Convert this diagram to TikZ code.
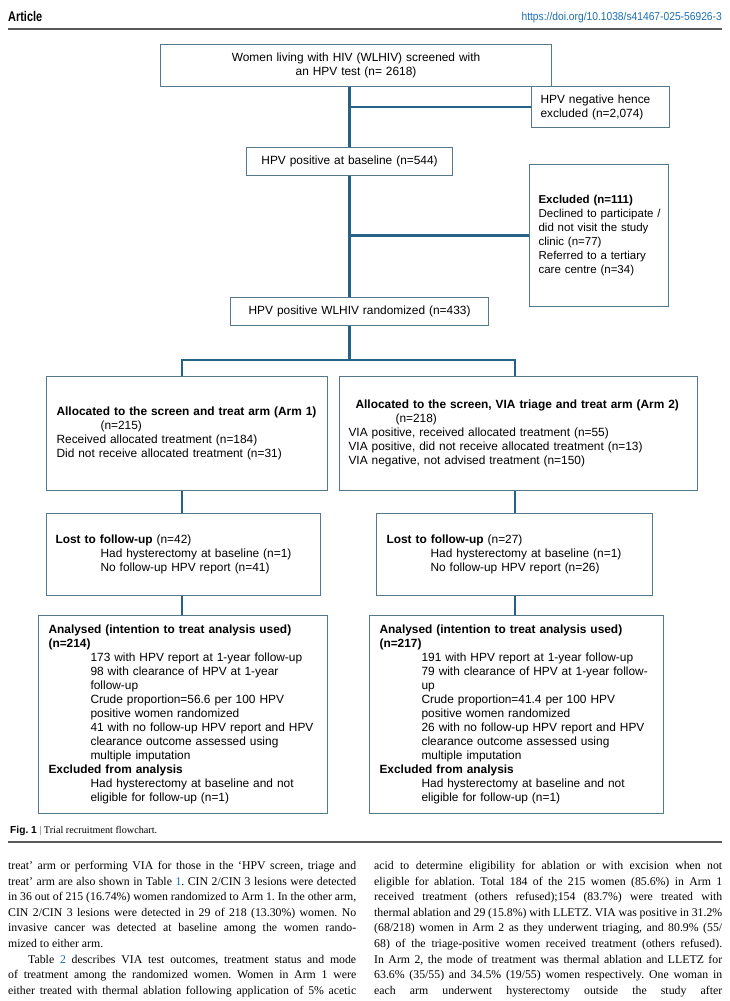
\documentclass[tikz,border=0pt]{standalone}
\usepackage{fontspec}
\setmainfont{Liberation Serif}
\newfontfamily\boxfont{Liberation Sans}
\definecolor{connc}{RGB}{38,98,132}
\definecolor{bord}{RGB}{84,120,142}
\definecolor{linkblue}{RGB}{28,110,178}
\definecolor{rulegray}{RGB}{90,90,90}
\frenchspacing
\tikzset{
  box/.style={draw=bord, line width=1.1pt, anchor=north west, inner xsep=10pt, inner ysep=0pt,
    font=\boxfont\fontsize{11.9}{14}\selectfont},
  lbox/.style={box, align=left, execute at begin node={\rightskip=-40pt plus 1fil\relax}},
  cbox/.style={box, align=center},
  conn/.style={draw=connc, line width=2.4pt},
  rulel/.style={draw=rulegray, line width=1.3pt},
  bodytext/.style={anchor=north west, inner sep=0pt, text width=348pt, align=justify,
    font=\fontsize{11.8}{15.6}\selectfont}
}
\begin{document}
\begin{tikzpicture}[x=1pt,y=-1pt]
\useasboundingbox (0,0) rectangle (729,1001);
\fill[white] (0,0) rectangle (729,1001);

% header
\node[anchor=base west, inner sep=0pt, font=\boxfont\bfseries\fontsize{14}{16}\selectfont] (hdr) at (8,21) {\scalebox{0.78}[1]{Article}};
\node[anchor=base east, inner sep=0pt, font=\boxfont\fontsize{11.4}{13}\selectfont, text=linkblue] (url) at (722,20) {\scalebox{0.9}[1]{https://doi.org/10.1038/s41467-025-56926-3}};
\coordinate (hl1) at (8,29);
\coordinate (hl2) at (722,29);
\draw[rulel] (hl1) -- (hl2);

% boxes
\node[cbox, text width=371pt, minimum height=42pt] (b1) at (160,44)
  {Women living with HIV (WLHIV) screened with\\an HPV test (n= 2618)};
\node[lbox, inner xsep=9pt, text width=120pt, minimum height=41pt] (b2) at (531,86)
  {HPV negative hence\\excluded (n=2,074)};
\node[cbox, text width=186pt, minimum height=28pt] (b3) at (246,147)
  {HPV positive at baseline (n=544)};
\node[lbox, inner xsep=9pt, text width=121pt, minimum height=142pt, font=\boxfont\fontsize{11.5}{14}\selectfont] (b4) at (529,164)
  {\textbf{Excluded (n=111)}\\Declined to participate /\\did not visit the study\\clinic (n=77)\\Referred to a tertiary\\care centre (n=34)};
\node[cbox, text width=238pt, minimum height=28pt] (b5) at (230,297)
  {HPV positive WLHIV randomized (n=433)};
\node[lbox, text width=261pt, minimum height=114pt] (b6) at (46,376)
  {\textbf{Allocated to the screen and treat arm (Arm 1)}\\\hspace*{44pt}(n=215)\\Received allocated treatment (n=184)\\Did not receive allocated treatment (n=31)};
\node[lbox, inner xsep=9pt, text width=340pt, minimum height=114pt] (b7) at (339,376)
  {\hspace*{7pt}\textbf{Allocated to the screen, VIA triage and treat arm (Arm 2)}\\\hspace*{47pt}(n=218)\\VIA positive, received allocated treatment (n=55)\\VIA positive, did not receive allocated treatment (n=13)\\VIA negative, not advised treatment (n=150)};
\node[lbox, inner xsep=9pt, text width=256pt, minimum height=82pt] (b8) at (46,513)
  {\textbf{Lost to follow-up} (n=42)\\\hspace*{45pt}Had hysterectomy at baseline (n=1)\\\hspace*{45pt}No follow-up HPV report (n=41)};
\node[lbox, text width=256pt, minimum height=82pt] (b9) at (376,513)
  {\textbf{Lost to follow-up} (n=27)\\\hspace*{44pt}Had hysterectomy at baseline (n=1)\\\hspace*{44pt}No follow-up HPV report (n=26)};
\node[lbox, text width=269pt, minimum height=198pt] (b10) at (38,615)
  {\textbf{Analysed (intention to treat analysis used)}\\\textbf{(n=214)}\\
   \hspace*{42pt}173 with HPV report at 1-year follow-up\\
   \hspace*{42pt}98 with clearance of HPV at 1-year\\
   \hspace*{42pt}follow-up\\
   \hspace*{42pt}Crude proportion=56.6 per 100 HPV\\
   \hspace*{42pt}positive women randomized\\
   \hspace*{42pt}41 with no follow-up HPV report and HPV\\
   \hspace*{42pt}clearance outcome assessed using\\
   \hspace*{42pt}multiple imputation\\
   \textbf{Excluded from analysis}\\
   \hspace*{42pt}Had hysterectomy at baseline and not\\
   \hspace*{42pt}eligible for follow-up (n=1)};
\node[lbox, text width=274pt, minimum height=198pt] (b11) at (369,615)
  {\textbf{Analysed (intention to treat analysis used)}\\\textbf{(n=217)}\\
   \hspace*{42pt}191 with HPV report at 1-year follow-up\\
   \hspace*{42pt}79 with clearance of HPV at 1-year follow-\\
   \hspace*{42pt}up\\
   \hspace*{42pt}Crude proportion=41.4 per 100 HPV\\
   \hspace*{42pt}positive women randomized\\
   \hspace*{42pt}26 with no follow-up HPV report and HPV\\
   \hspace*{42pt}clearance outcome assessed using\\
   \hspace*{42pt}multiple imputation\\
   \textbf{Excluded from analysis}\\
   \hspace*{42pt}Had hysterectomy at baseline and not\\
   \hspace*{42pt}eligible for follow-up (n=1)};

% connectors
\draw[conn] (b3.north) -- (b3.north |- b1.south);
\draw[conn] (b3.north |- b2.west) -- (b2.west);
\draw[conn] (b3.south) -- (b3.south |- b5.north);
\draw[conn] (b3.south |- b4.west) -- (b4.west);
\coordinate (jL) at (182,360);
\coordinate (jR) at (515,360);
\coordinate (jM) at (b3.south |- jL);
\draw[conn] (b3.south |- b5.south) -- (jM);
\draw[conn, line join=miter] (jL |- b6.north) -- (jL) -- (jR) -- (jR |- b7.north);
\draw[conn] (jL |- b6.south) -- (jL |- b8.north);
\draw[conn] (jR |- b7.south) -- (jR |- b9.north);
\draw[conn] (jL |- b8.south) -- (jL |- b10.north);
\draw[conn] (jR |- b9.south) -- (jR |- b11.north);

% caption
\node[anchor=base west, inner sep=0pt, font=\fontsize{10.2}{12}\selectfont] (cap) at (10,833)
  {{\boxfont\bfseries Fig. 1} {\color{rulegray}|} Trial recruitment flowchart.};
\coordinate (cl1) at (8,842);
\coordinate (cl2) at (722,842);
\draw[rulel] (cl1) -- (cl2);

% body text
\node[bodytext] (colL) at (8,861) {\tolerance=10000\hyphenpenalty=10000\noindent
treat’ arm or performing VIA for those in the ‘HPV screen, triage and\linebreak
treat’ arm are also shown in Table {\color{linkblue}1}. CIN 2/CIN 3 lesions were detected\linebreak
in 36 out of 215 (16.74\%) women randomized to Arm 1. In the other arm,\linebreak
CIN 2/CIN 3 lesions were detected in 29 of 218 (13.30\%) women. No\linebreak
invasive cancer was detected at baseline among the women rando-\linebreak
mized to either arm.\par
\hspace*{20pt}Table {\color{linkblue}2} describes VIA test outcomes, treatment status and mode\linebreak
of treatment among the randomized women. Women in Arm 1 were\linebreak
either treated with thermal ablation following application of 5\% acetic\parfillskip=0pt\par};
\node[bodytext] (colR) at (374,861) {\tolerance=10000\hyphenpenalty=10000\noindent
acid to determine eligibility for ablation or with excision when not\linebreak
eligible for ablation. Total 184 of the 215 women (85.6\%) in Arm 1\linebreak
received treatment (others refused);154 (83.7\%) were treated with\linebreak
thermal ablation and 29 (15.8\%) with LLETZ. VIA was positive in 31.2\%\linebreak
(68/218) women in Arm 2 as they underwent triaging, and 80.9\% (55/\linebreak
68) of the triage-positive women received treatment (others refused).\linebreak
In Arm 2, the mode of treatment was thermal ablation and LLETZ for\linebreak
63.6\% (35/55) and 34.5\% (19/55) women respectively. One woman in\linebreak
each arm underwent hysterectomy outside the study after\parfillskip=0pt\par};
\end{tikzpicture}
\end{document}
